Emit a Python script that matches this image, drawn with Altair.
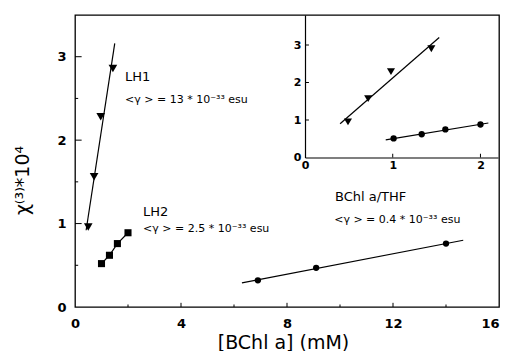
import altair as alt
import pandas as pd

# ---------------- main panel data ----------------
lh1_x = [0.50, 0.72, 0.97, 1.43]
lh1_y = [0.96, 1.56, 2.28, 2.86]
lh1_fit_x = [0.42, 1.50]
lh1_fit_y = [0.92, 3.16]

lh2_x = [1.0, 1.3, 1.6, 2.0]
lh2_y = [0.52, 0.62, 0.76, 0.89]

thf_x = [6.9, 9.1, 14.0]
thf_y = [0.32, 0.47, 0.76]
thf_fit_x = [6.3, 14.65]
thf_fit_y = [0.29, 0.80]

ann_text = ["LH1", "<γ > = 13 * 10⁻³³ esu", "LH2", "<γ > = 2.5 * 10⁻³³ esu",
            "BChl a/THF", "<γ > = 0.4 * 10⁻³³ esu"]
ann_x = [1.89, 1.89, 2.57, 2.57, 9.81, 9.78]
ann_y = [2.71, 2.45, 1.09, 0.90, 1.27, 1.01]
ann_size = [13, 11, 13, 11, 13, 11]

main_x_labels = [0, 4, 8, 12, 16]
main_y_labels = [0, 1, 2, 3]
main_x_major = [4, 8, 12]
main_x_minor = [2, 6, 10, 14]
main_y_major = [1, 2, 3]
main_y_minor = [0.5, 1.5, 2.5]

# ---------------- inset data ----------------
in_lh1_x = [0.49, 0.72, 0.98, 1.44]
in_lh1_y = [0.95, 1.57, 2.29, 2.90]
in_lh1_fit_x = [0.40, 1.53]
in_lh1_fit_y = [0.90, 3.20]
in_lh2_x = [1.01, 1.33, 1.60, 2.00]
in_lh2_y = [0.51, 0.62, 0.75, 0.88]
in_lh2_fit_x = [0.92, 2.09]
in_lh2_fit_y = [0.47, 0.92]

in_x_labels = [0, 1, 2]
in_y_labels = [0, 1, 2, 3]
in_x_ticks = [1, 2]
in_y_ticks = [1, 2, 3]

FONT = "DejaVu Sans"
W, H = 424, 292

def df(xs, ys):
    return pd.DataFrame({"x": xs, "y": ys})

def mx():
    return alt.Scale(domain=[0, 16], nice=False, zero=False)
def my():
    return alt.Scale(domain=[0, 3.5], nice=False, zero=False)
def ix():
    return alt.Scale(domain=[0, 2.2], range=[230, 423], nice=False, zero=False)
def iy():
    return alt.Scale(domain=[0, 3.8], range=[142.5, 0], nice=False, zero=False)

main_x_axis = alt.Axis(orient="bottom", values=main_x_labels, ticks=False, domain=False,
                       grid=False, labelFlush=False, labelPadding=10, labelFont=FONT,
                       labelFontSize=13, labelFontWeight="bold", labelColor="black",
                       labelAlign=alt.ExprRef(expr="datum.value == 16 ? 'right' : 'center'"),
                       title="[BChl a] (mM)", titleFont=FONT, titleFontSize=19,
                       titleFontWeight="normal", titleColor="black",
                       titleX=208, titleY=41, titleAlign="center",
                       titleBaseline="alphabetic")
main_y_axis = alt.Axis(orient="left", values=main_y_labels, ticks=False, domain=False,
                       grid=False, labelFlush=False, labelPadding=9, labelFont=FONT,
                       labelFontSize=13, labelFontWeight="bold", labelColor="black",
                       title="χ⁽³⁾*10⁴", titleFont=FONT, titleFontSize=19,
                       titleFontWeight="normal", titleColor="black",
                       titleX=-53, titleY=165, titleAngle=270,
                       titleAlign="center", titleBaseline="middle")
in_x_axis = alt.Axis(orient="bottom", offset=-149.5, values=in_x_labels, ticks=False,
                     domain=True, domainColor="black", domainWidth=1.2, grid=False,
                     labelFlush=False, labelPadding=2, labelFont=FONT, labelFontSize=11,
                     labelFontWeight="bold", labelColor="black", title="")
in_y_axis = alt.Axis(orient="left", offset=-230, values=in_y_labels, ticks=False,
                     domain=True, domainColor="black", domainWidth=1.2, grid=False,
                     labelFlush=False, labelPadding=4, labelFont=FONT, labelFontSize=11,
                     labelFontWeight="bold", labelColor="black", title="")

def X(scale, axis=None):
    if axis is None:
        return alt.X("x:Q", scale=scale, axis=None)
    return alt.X("x:Q", scale=scale, axis=axis)

def Y(scale, axis=None):
    if axis is None:
        return alt.Y("y:Q", scale=scale, axis=None)
    return alt.Y("y:Q", scale=scale, axis=axis)

LINE = dict(color="black", strokeWidth=1.2)

layers = []
# ---- main panel ----
layers.append(alt.Chart(df(lh1_fit_x, lh1_fit_y)).mark_line(**LINE).encode(
    x=X(mx(), main_x_axis), y=Y(my(), main_y_axis)))
layers.append(alt.Chart(df(lh1_x, lh1_y)).mark_point(
    shape="triangle-down", filled=True, size=75, color="black", opacity=1).encode(
    x=X(mx()), y=Y(my())))
layers.append(alt.Chart(df(lh2_x, lh2_y)).mark_line(**LINE).encode(x=X(mx()), y=Y(my())))
layers.append(alt.Chart(df(lh2_x, lh2_y)).mark_point(
    shape="square", filled=True, size=50, color="black", opacity=1).encode(
    x=X(mx()), y=Y(my())))
layers.append(alt.Chart(df(thf_fit_x, thf_fit_y)).mark_line(**LINE).encode(x=X(mx()), y=Y(my())))
layers.append(alt.Chart(df(thf_x, thf_y)).mark_circle(size=40, color="black", opacity=1).encode(
    x=X(mx()), y=Y(my())))

ann_df = pd.DataFrame({"x": ann_x, "y": ann_y, "t": ann_text, "s": ann_size})
layers.append(alt.Chart(ann_df).mark_text(align="left", baseline="alphabetic", font=FONT,
                                          color="black").encode(
    x=X(mx()), y=Y(my()), text="t:N", size=alt.Size("s:Q", scale=None, legend=None)))

# inward tick marks of the main frame
layers.append(alt.Chart(pd.DataFrame({"y": main_y_major})).mark_rule(color="black").encode(
    y=Y(my()), x=alt.XDatum(0, scale=mx(), axis=None), x2=alt.X2Datum(0.25)))
layers.append(alt.Chart(pd.DataFrame({"y": main_y_minor})).mark_rule(color="black").encode(
    y=Y(my()), x=alt.XDatum(0, scale=mx(), axis=None), x2=alt.X2Datum(0.12)))
layers.append(alt.Chart(pd.DataFrame({"x": main_x_major})).mark_rule(color="black").encode(
    x=X(mx()), y=alt.YDatum(0, scale=my(), axis=None), y2=alt.Y2Datum(0.05)))
layers.append(alt.Chart(pd.DataFrame({"x": main_x_minor})).mark_rule(color="black").encode(
    x=X(mx()), y=alt.YDatum(0, scale=my(), axis=None), y2=alt.Y2Datum(0.03)))

# ---- inset ----
layers.append(alt.Chart(df(in_lh1_fit_x, in_lh1_fit_y)).mark_line(**LINE).encode(
    x=X(ix(), in_x_axis), y=Y(iy(), in_y_axis)))
layers.append(alt.Chart(df(in_lh1_x, in_lh1_y)).mark_point(
    shape="triangle-down", filled=True, size=65, color="black", opacity=1).encode(
    x=X(ix()), y=Y(iy())))
layers.append(alt.Chart(df(in_lh2_fit_x, in_lh2_fit_y)).mark_line(**LINE).encode(
    x=X(ix()), y=Y(iy())))
layers.append(alt.Chart(df(in_lh2_x, in_lh2_y)).mark_circle(size=40, color="black", opacity=1).encode(
    x=X(ix()), y=Y(iy())))
layers.append(alt.Chart(pd.DataFrame({"y": in_y_ticks})).mark_rule(color="black").encode(
    y=Y(iy()), x=alt.XDatum(0, scale=ix(), axis=None), x2=alt.X2Datum(0.045)))
layers.append(alt.Chart(pd.DataFrame({"x": in_x_ticks})).mark_rule(color="black").encode(
    x=X(ix()), y=alt.YDatum(0, scale=iy(), axis=None), y2=alt.Y2Datum(0.1)))

chart = alt.layer(*layers).resolve_scale(x="independent", y="independent").properties(
    width=W, height=H,
    autosize=alt.AutoSizeParams(type="none"),
    padding={"left": 67, "top": 7, "right": 1, "bottom": 44},
    background="white",
).configure_view(stroke="black", strokeWidth=1.3)

chart.save("out.html", embed_options={"renderer": "svg", "actions": False})
